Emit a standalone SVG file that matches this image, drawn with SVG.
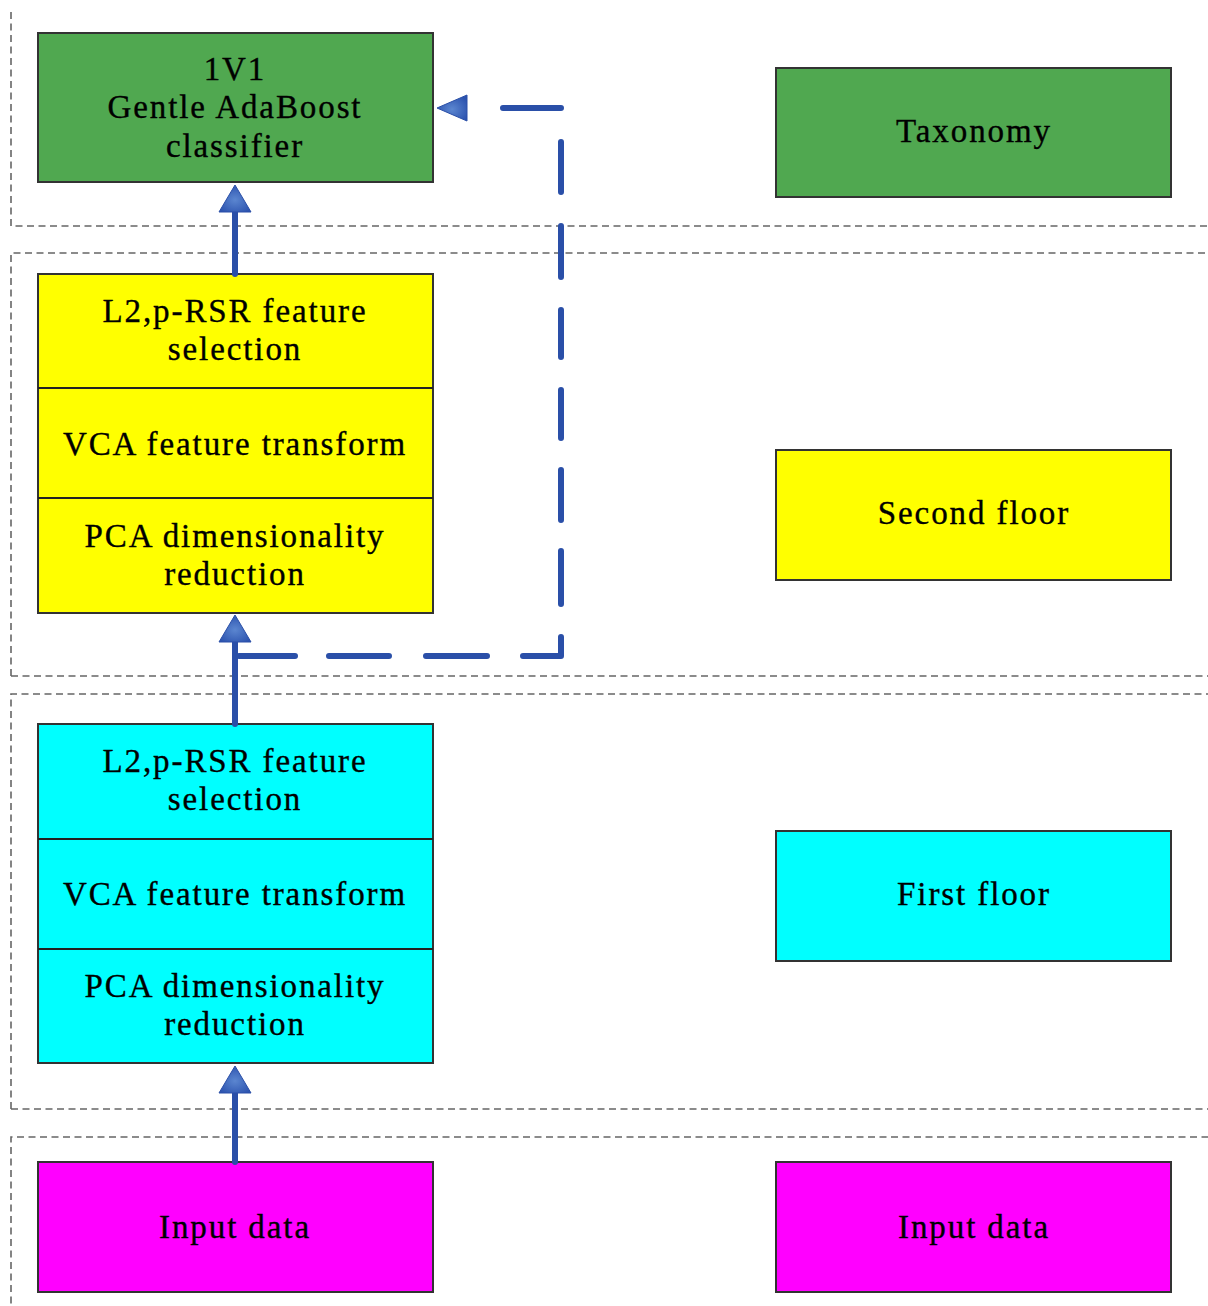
<svg xmlns="http://www.w3.org/2000/svg" width="1208" height="1306" viewBox="0 0 1208 1306">
<defs>
<style>
.region{fill:none;stroke:#666;stroke-width:1.6;stroke-dasharray:7 4.5}
.box{stroke:#333;stroke-width:2}
.green{fill:#50A850}
.yellow{fill:#FFFF00}
.cyan{fill:#00FFFF}
.magenta{fill:#FF00FF}
.div{stroke:#222;stroke-width:2}
text{font-family:"Liberation Serif","Times New Roman",serif;font-size:33px;fill:#000;stroke:#000;stroke-width:0.35;text-anchor:middle;letter-spacing:1.9px}
.solid{stroke:#2A4FA8;stroke-width:6;stroke-linecap:round;fill:none}
.dash{stroke:#2A4FA8;stroke-width:6;stroke-linecap:round;stroke-linejoin:round;fill:none}
.head{fill:url(#hg);stroke:#2A4FA8;stroke-width:1}
</style>
<radialGradient id="hg" cx="0.5" cy="0.55" r="0.6">
<stop offset="0" stop-color="#5B86D0"/>
<stop offset="1" stop-color="#2B52AE"/>
</radialGradient>
</defs>
<g id="regions">
<path class="region" d="M11,12 V226 H1215"/>
<path class="region" d="M11,676 V253 H1215 M11,676 H1215"/>
<path class="region" d="M11,1109 V694 H1215 M11,1109 H1215"/>
<path class="region" d="M11,1315 V1137 H1215"/>
</g>
<g id="classifier">
<rect class="box green" x="38" y="33" width="395" height="149"/>
<text x="235" y="80">1V1</text>
<text x="235" y="118">Gentle AdaBoost</text>
<text x="235" y="157">classifier</text>
</g>
<g id="taxonomy">
<rect class="box green" x="776" y="68" width="395" height="129"/>
<text x="974" y="142">Taxonomy</text>
</g>
<g id="second-stack">
<rect class="box yellow" x="38" y="274" width="395" height="339"/>
<line class="div" x1="38" y1="388" x2="433" y2="388"/>
<line class="div" x1="38" y1="498" x2="433" y2="498"/>
<text x="235" y="322">L2,p-RSR feature</text>
<text x="235" y="360">selection</text>
<text x="235" y="455">VCA feature transform</text>
<text x="235" y="547">PCA dimensionality</text>
<text x="235" y="585">reduction</text>
</g>
<g id="second-floor">
<rect class="box yellow" x="776" y="450" width="395" height="130"/>
<text x="974" y="524">Second floor</text>
</g>
<g id="first-stack">
<rect class="box cyan" x="38" y="724" width="395" height="339"/>
<line class="div" x1="38" y1="839" x2="433" y2="839"/>
<line class="div" x1="38" y1="949" x2="433" y2="949"/>
<text x="235" y="772">L2,p-RSR feature</text>
<text x="235" y="810">selection</text>
<text x="235" y="905">VCA feature transform</text>
<text x="235" y="997">PCA dimensionality</text>
<text x="235" y="1035">reduction</text>
</g>
<g id="first-floor">
<rect class="box cyan" x="776" y="831" width="395" height="130"/>
<text x="974" y="905">First floor</text>
</g>
<g id="input-left">
<rect class="box magenta" x="38" y="1162" width="395" height="130"/>
<text x="235" y="1238">Input data</text>
</g>
<g id="input-right">
<rect class="box magenta" x="776" y="1162" width="395" height="130"/>
<text x="974" y="1238">Input data</text>
</g>
<g id="connectors">
<line class="solid" x1="235" y1="274" x2="235" y2="208"/>
<polygon class="head" points="235,185 251,212 219,212"/>
<line class="solid" x1="235" y1="724" x2="235" y2="638"/>
<polygon class="head" points="235,615 251,642 219,642"/>
<line class="solid" x1="235" y1="1162" x2="235" y2="1089"/>
<polygon class="head" points="235,1066 251,1093 219,1093"/>
<path class="dash" d="M239,656 H295 M329,656 H389 M426,656 H487 M523,656 H561 V637 M561,604 V551 M561,520 V470 M561,438 V390 M561,357 V310 M561,277 V226 M561,192 V142 M561,108 H503"/>
<polygon class="head" points="437,108 467,95 467,121"/>
</g>
</svg>
